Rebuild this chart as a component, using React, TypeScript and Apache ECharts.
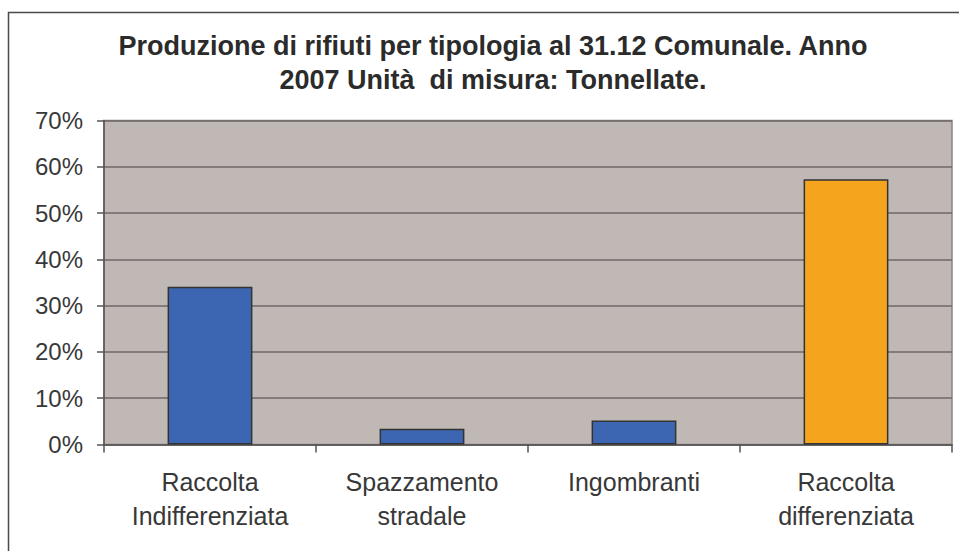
import React, { useEffect, useRef } from "react";
import * as echarts from "echarts";

const titleLines = [
  "Produzione di rifiuti per tipologia al 31.12 Comunale. Anno",
  "2007 Unità  di misura: Tonnellate.",
];
const categories = [
  "Raccolta\nIndifferenziata",
  "Spazzamento\nstradale",
  "Ingombranti",
  "Raccolta\ndifferenziata",
];
const values = [34.1, 3.4, 5.2, 57.3];
const barColors = ["#3c66b1", "#3c66b1", "#3c66b1", "#f5a51d"];
const yTicks = [0, 10, 20, 30, 40, 50, 60, 70];

export default function App() {
  const ref = useRef<HTMLDivElement>(null);
  useEffect(() => {
    if (!ref.current) return;
    const chart = echarts.init(ref.current, null, { renderer: "svg" });
    const font = "'Liberation Sans', Arial, Helvetica, sans-serif";
    chart.setOption({
      animation: false,
      backgroundColor: "#ffffff",
      title: {
        text: titleLines.join("\n"),
        left: 493,
        textAlign: "center",
        top: 29,
        padding: 0,
        textStyle: {
          fontFamily: font,
          fontSize: 27,
          fontWeight: "bold",
          color: "#2b2b2b",
          lineHeight: 34,
        },
      },
      graphic: [
        {
          type: "rect",
          shape: { x: 8.5, y: 12.5, width: 1000, height: 600 },
          style: { fill: "none", stroke: "#4a4a4a", lineWidth: 1.5 },
          silent: true,
          z: 100,
        },
      ],
      grid: {
        left: 104,
        right: 7,
        top: 120.5,
        bottom: 106.5,
        show: true,
        backgroundColor: "#c0b8b5",
        borderColor: "#8d8585",
        borderWidth: 1.5,
      },
      xAxis: {
        type: "category",
        data: categories,
        axisLine: { show: true, lineStyle: { color: "#555555", width: 1.5 } },
        axisTick: { show: true, length: 8, lineStyle: { color: "#555555", width: 1.5 } },
        axisLabel: {
          fontFamily: font,
          fontSize: 25,
          color: "#383838",
          lineHeight: 34,
          margin: 20,
          interval: 0,
        },
      },
      yAxis: {
        type: "value",
        min: yTicks[0],
        max: yTicks[yTicks.length - 1],
        interval: 10,
        axisLine: { show: true, lineStyle: { color: "#555555", width: 1.5 } },
        axisTick: { show: true, length: 7, lineStyle: { color: "#555555", width: 1.5 } },
        splitLine: { show: true, lineStyle: { color: "#6f6969", width: 1.5 } },
        axisLabel: {
          fontFamily: font,
          fontSize: 24,
          color: "#383838",
          margin: 21,
          formatter: (v: number) => `${v}%`,
        },
      },
      series: [
        {
          type: "bar",
          data: values.map((v, i) => ({ value: v, itemStyle: { color: barColors[i] } })),
          barWidth: "40%",
          itemStyle: { borderColor: "#333333", borderWidth: 1.5 },
        },
      ],
    });
    return () => chart.dispose();
  }, []);
  return (
    <div
      ref={ref}
      style={{ position: "absolute", left: 0, top: 0, width: 959, height: 551 }}
    />
  );
}
